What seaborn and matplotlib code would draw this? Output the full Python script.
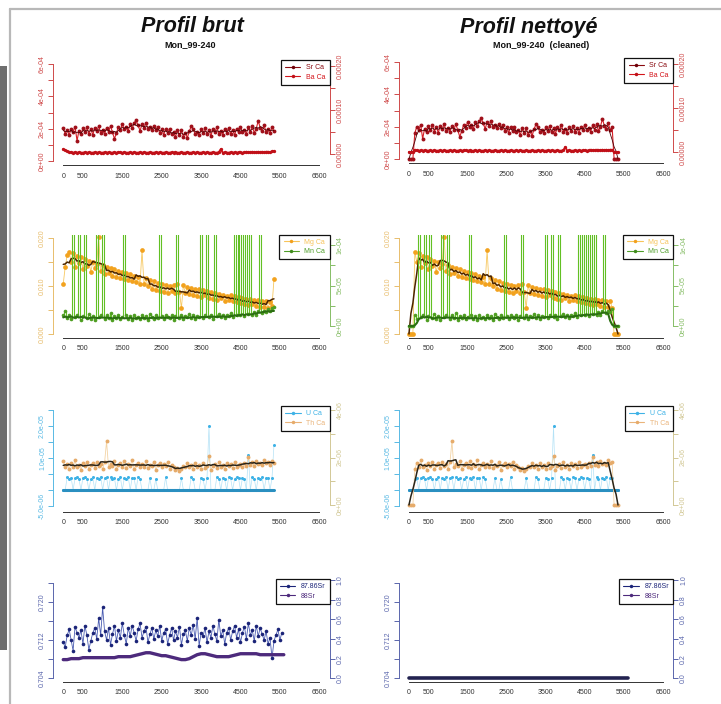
import numpy as np
import pandas as pd
import matplotlib
matplotlib.use("Agg")
import matplotlib.pyplot as plt
from matplotlib.lines import Line2D
from matplotlib.patches import Rectangle
import seaborn as sns

# ---------------------------------------------------------------- data
# distance along the transect (one sample every 50 units)
dist = np.arange(0, 5400, 50)
dist_sr = np.arange(0, 5600, 50)
dist_88 = np.arange(0, 5700, 100)

sr_ca = np.array([
    207, 167, 193, 160, 200, 180, 213, 125, 188, 165, 203, 177,
    210, 170, 196, 163, 203, 183, 216, 176, 191, 168, 206, 180,
    217, 177, 138, 172, 212, 192, 228, 195, 210, 188, 228, 202,
    234, 252, 220, 187, 227, 207, 238, 198, 213, 190, 218, 192,
    212, 172, 195, 162, 198, 172, 200, 164, 177, 150, 190, 162,
    190, 150, 176, 143, 183, 215, 196, 166, 181, 158, 196, 172,
    204, 164, 190, 157, 197, 177, 210, 170, 185, 162, 200, 174,
    207, 167, 193, 160, 200, 180, 213, 178, 193, 170, 208, 182,
    214, 174, 200, 248, 207, 187, 220, 180, 195, 172, 210, 184,
]) * 1e-6

ba_ca = np.array([
    11, 8, 6, 5, 4, 3, 4, 3, 4, 3, 3, 4,
    3, 4, 3, 3, 4, 3, 4, 3, 3, 4, 3, 4,
    3, 3, 4, 3, 4, 4, 3, 4, 3, 3, 4, 3,
    4, 3, 3, 4, 3, 4, 3, 3, 4, 3, 3, 4,
    3, 4, 3, 3, 4, 3, 3, 4, 3, 4, 3, 3,
    4, 3, 3, 4, 3, 3, 4, 3, 4, 3, 3, 4,
    3, 4, 3, 3, 4, 3, 3, 4, 11, 3, 4, 3,
    3, 4, 3, 4, 3, 4, 4, 3, 4, 5, 4, 4,
    5, 4, 4, 5, 4, 5, 4, 5, 5, 4, 6, 7,
]) * 1e-6

mg_ca = np.array([
    105, 140, 165, 172, 150, 170, 140, 163, 148, 160, 136, 157,
    142, 152, 130, 150, 138, 147, 203, 131, 145, 125, 140, 128,
    138, 122, 135, 120, 132, 118, 130, 115, 128, 112, 125, 110,
    122, 108, 120, 105, 175, 104, 116, 100, 112, 95, 110, 92,
    106, 90, 104, 88, 102, 86, 100, 90, 103, 85, 104, 88,
    54, 102, 86, 98, 84, 96, 82, 95, 80, 93, 78, 92,
    82, 90, 76, 88, 74, 86, 72, 84, 75, 82, 70, 80,
    72, 82, 68, 80, 66, 77, 64, 76, 62, 74, 60, 73,
    62, 72, 58, 71, 57, 70, 56, 68, 55, 67, 58, 114,
]) * 1e-4

mn_ca = np.array([
    14, 18, 10, 13, 9, 400, 11, 14, 400, 8, 12, 400,
    10, 15, 9, 12, 7, 400, 11, 14, 400, 9, 13, 10,
    16, 8, 12, 10, 14, 9, 11, 400, 13, 9, 12, 8,
    14, 10, 11, 9, 13, 10, 12, 8, 15, 11, 9, 13,
    10, 400, 12, 9, 14, 11, 10, 13, 7, 12, 400, 10,
    14, 9, 12, 11, 15, 10, 13, 9, 12, 11, 400, 10,
    13, 400, 11, 14, 9, 400, 12, 15, 11, 13, 10, 14,
    12, 16, 11, 400, 13, 400, 14, 400, 12, 400, 15, 400,
    13, 17, 14, 18, 400, 16, 19, 17, 21, 18, 22, 24,
]) * 1e-6

u_ca = np.array([
    0, 0, 40, 34, 39, 0, 37, 42, 33, 0, 38, 41,
    35, 0, 33, 40, 0, 39, 34, 42, 0, 36, 40, 0,
    41, 35, 37, 0, 33, 40, 0, 37, 34, 41, 0, 39,
    36, 0, 42, 33, 0, 0, 0, 0, 37, 0, 0, 34,
    0, 0, 0, 0, 40, 0, 0, 0, 0, 0, 0, 0,
    37, 0, 0, 0, 0, 41, 34, 0, 0, 0, 39, 35,
    0, 36, 200, 0, 0, 0, 41, 35, 0, 39, 33, 0,
    40, 36, 0, 34, 41, 37, 0, 38, 33, 0, 110, 0,
    41, 35, 0, 39, 34, 40, 0, 36, 38, 0, 37, 140,
]) * 1e-7

th_ca = np.array([
    185, 160, 172, 150, 178, 162, 188, 158, 170, 148, 175, 165,
    182, 152, 168, 176, 155, 183, 163, 171, 150, 180, 268, 158,
    174, 164, 187, 153, 169, 177, 160, 184, 156, 172, 165, 190,
    151, 168, 178, 159, 173, 162, 185, 154, 170, 166, 181, 149,
    167, 176, 158, 172, 163, 183, 152, 169, 160, 148, 155, 142,
    150, 165, 158, 175, 162, 170, 153, 178, 161, 168, 150, 176,
    156, 163, 206, 148, 166, 172, 157, 180, 162, 169, 151, 177,
    164, 171, 155, 182, 160, 168, 174, 158, 178, 165, 201, 170,
    180, 164, 185, 172, 178, 168, 188, 175, 182, 170, 186, 176,
]) * 1e-8

sr8786 = 0.7 + np.array([
    115, 105, 130, 142, 120, 98, 148, 135, 125, 140, 112, 150,
    130, 100, 118, 135, 145, 122, 165, 130, 188, 138, 120, 145,
    110, 132, 150, 118, 140, 125, 155, 130, 112, 145, 128, 150,
    135, 118, 142, 155, 125, 138, 148, 115, 132, 145, 122, 140,
    128, 150, 118, 135, 142, 112, 130, 145, 120, 138, 125, 148,
    110, 132, 140, 118, 145, 130, 152, 122, 166, 108, 135, 128,
    145, 115, 138, 125, 150, 132, 118, 162, 128, 140, 112, 135,
    145, 120, 138, 150, 125, 142, 115, 135, 148, 122, 155, 130,
    140, 118, 150, 128, 145, 132, 120, 138, 112, 125, 82, 118,
    130, 142, 120, 135,
]) * 1e-4

sr88 = np.array([
    0.19, 0.19, 0.20, 0.20, 0.20, 0.21, 0.21, 0.21, 0.21, 0.21,
    0.21, 0.21, 0.21, 0.21, 0.22, 0.22, 0.22, 0.22, 0.23, 0.24,
    0.25, 0.26, 0.26, 0.25, 0.24, 0.23, 0.23, 0.22, 0.21, 0.20,
    0.19, 0.19, 0.20, 0.22, 0.24, 0.25, 0.25, 0.24, 0.23, 0.22,
    0.22, 0.22, 0.22, 0.23, 0.24, 0.25, 0.25, 0.25, 0.25, 0.25,
    0.24, 0.24, 0.24, 0.24, 0.24, 0.24, 0.24,
])

# the cleaned profile keeps only the samples inside this window
clean_from, clean_to = 150, 5200

x_ticks = list(range(0, 7000, 500))
x_tick_labels = ["0", "500", "", "1500", "", "2500", "", "3500", "", "4500", "", "5500", "", "6500"]

r1_left_ticks = [0, 1e-4, 2e-4, 3e-4, 4e-4, 5e-4, 6e-4]
r1_left_labels = ["0e+00", "", "2e-04", "", "4e-04", "", "6e-04"]
r1_right_ticks = [0, 5e-5, 1e-4, 1.5e-4, 2e-4]
r1_right_labels = ["0.00000", "", "0.00010", "", "0.00020"]
r2_left_ticks = [0, 0.005, 0.010, 0.015, 0.020]
r2_left_labels = ["0.000", "", "0.010", "", "0.020"]
r2_right_ticks = [0, 2.5e-5, 5e-5, 7.5e-5, 1e-4]
r2_right_labels = ["0e+00", "", "5e-05", "", "1e-04"]
r3_left_ticks = [-5e-6, 0, 5e-6, 1e-5, 1.5e-5, 2e-5, 2.5e-5]
r3_left_labels = ["-5.0e-06", "", "", "1.0e-05", "", "2.0e-05", ""]
r3_right_ticks = [0, 1e-6, 2e-6, 3e-6, 4e-6]
r3_right_labels = ["0e+00", "", "2e-06", "", "4e-06"]
r4_left_ticks = [0.704, 0.708, 0.712, 0.716, 0.720, 0.724]
r4_left_labels = ["0.704", "", "0.712", "", "0.720", ""]
r4_right_ticks = [0, 0.2, 0.4, 0.6, 0.8, 1.0]
r4_right_labels = ["0.0", "0.2", "0.4", "0.6", "0.8", "1.0"]

legend_labels = [["Sr Ca", "Ba Ca"], ["Mg Ca", "Mn Ca"], ["U Ca", "Th Ca"], ["87.86Sr", "88Sr"]]

# ---------------------------------------------------------------- layout
W, H = 721, 704
sns.set_theme(style="white")
plt.rcParams["font.family"] = ["Liberation Sans", "DejaVu Sans"]
fig = plt.figure(figsize=(W / 100, H / 100), dpi=100)
fig.patch.set_facecolor("white")

col_x = [(53, 329.5, -1), (398.8, 673.1, -3)]
row_y = [(61, 166), (234.5, 337.8), (406, 511.7), (579, 681.7)]
left_ref = [((162, 0), (65, 6e-4)), ((334, 0), (238.3, 0.02)),
            ((490, 0), (426, 2e-5)), ((678.3, 0.704), (601.7, 0.720))]
right_ref = [((155, 0), (67, 2e-4)), ((326, 0), (245, 1e-4)),
             ((505, 0), (410, 4e-6)), ((678.3, 0), (580, 1.0))]
left_ticks = [r1_left_ticks, r2_left_ticks, r3_left_ticks, r4_left_ticks]
left_labels = [r1_left_labels, r2_left_labels, r3_left_labels, r4_left_labels]
right_ticks = [r1_right_ticks, r2_right_ticks, r3_right_ticks, r4_right_ticks]
right_labels = [r1_right_labels, r2_right_labels, r3_right_labels, r4_right_labels]
axis_colors = [("#cf4a4a", "#cf4a4a"), ("#e8bd6c", "#86bd66"),
               ("#58b9e4", "#d2c896"), ("#5a66ac", "#5a66ac")]
legend_colors = [[("#8a0a10", "#6e0008"), ("#d4141a", "#c01018")],
                 [("#f7c45a", "#f2a01c"), ("#4e9e28", "#3f8a1a")],
                 [("#3eb2e6", "#3eb2e6"), ("#eab47a", "#e6ab6a")],
                 [("#1b2478", "#1b2478"), ("#4d2a7c", "#4d2a7c")]]


def lim(p0, v0, p1, v1, top, bottom):
    k = (v1 - v0) / (p0 - p1)
    return v0 - (bottom - p0) * k, v0 + (p0 - top) * k


def series(ax, x, y, line_c, mark_c, ms=2.5, lw=0.6, **kw):
    sns.lineplot(x=x, y=y, ax=ax, color=line_c, lw=lw, marker="o", markersize=ms,
                 markerfacecolor=mark_c, markeredgewidth=0, estimator=None,
                 sort=False, legend=False, **kw)


def smooth(ax, x, y, color, lw, win=7, q=None):
    roll = pd.Series(y).rolling(win, center=True, min_periods=1)
    ys = (roll.mean() if q is None else roll.quantile(q)).to_numpy()
    sns.lineplot(x=x, y=ys, ax=ax, color=color, lw=lw, estimator=None, sort=False, legend=False)


def cleaned(y, x):
    return np.where((x >= clean_from) & (x <= clean_to), y, 0.0)


def style_y(ax, side, ticks, labels, color, ylim):
    ax.set_ylim(*ylim)
    ax.set_yticks(ticks)
    ax.set_yticklabels(labels)
    ax.set_ylabel("")
    sp = ax.spines[side]
    sp.set_visible(True)
    sp.set_bounds(ticks[0], ticks[-1])
    sp.set_color(color)
    sp.set_linewidth(0.7)
    ax.tick_params(axis="y", which="both", left=side == "left", right=side == "right",
                   labelleft=side == "left", labelright=side == "right",
                   direction="out", length=3.5, width=0.7, colors=color,
                   labelsize=5, pad=1.5, labelrotation=90)
    for t in ax.get_yticklabels():
        t.set_verticalalignment("center")


def draw_row(row, ax, ax2, clean):
    if row == 0:
        sr = cleaned(sr_ca, dist) if clean else sr_ca
        ba = cleaned(ba_ca, dist) if clean else ba_ca
        series(ax, dist, sr, "#d82028", "#a0101a", ms=2.8, lw=0.8)
        smooth(ax, dist, sr, "#4a0004", 0.6, win=5)
        series(ax2, dist, ba, "#d4141a", "#c01018", ms=2.4, lw=1.4)
    elif row == 1:
        mg = cleaned(mg_ca, dist) if clean else mg_ca
        mn = cleaned(mn_ca, dist) if clean else mn_ca
        series(ax, dist, mg, "#f7c860", "#f2a21e", ms=3.4)
        smooth(ax, dist, mg, "#4a2400", 1.1, win=5 if clean else 7)
        series(ax2, dist, mn, "#62c024", "#4f9e22", ms=2.6, lw=0.8, drawstyle="steps-mid")
        smooth(ax2, dist, mn, "#2b6e12", 1.5, win=9, q=0.3)
    elif row == 2:
        th = cleaned(th_ca, dist) if clean else th_ca
        u = cleaned(u_ca, dist) if clean else u_ca
        series(ax, dist, u, "#b4e2f6", "#3eb2e6", ms=2.2, lw=0.5)
        smooth(ax, dist, u, "#2a8fc0", 2.2, win=5, q=0.0)
        series(ax2, dist, th, "#f3d3a4", "#e6ab6a", ms=2.8)
        smooth(ax2, dist, th, "#2a2418", 1.1, win=5 if clean else 7)
    else:
        if clean:
            s87 = np.zeros_like(sr8786)
            s88 = np.zeros_like(sr88)
            series(ax, dist_sr, s87, "#4a5cb2", "#1b2478", ms=2.6)
            sns.lineplot(x=dist_88, y=s88, ax=ax2, color="#222250", lw=2.6,
                         estimator=None, sort=False, legend=False)
        else:
            series(ax, dist_sr, sr8786, "#4a5cb2", "#1b2478", ms=2.6)
            sns.lineplot(x=dist_88, y=sr88, ax=ax2, color="#4d2a7c", lw=2.4,
                         estimator=None, sort=False, legend=False)


for col, (left, right, dy1) in enumerate(col_x):
    for row, (top, bottom) in enumerate(row_y):
        if row == 0:
            top, bottom = top + dy1, bottom + dy1
        ax = fig.add_axes([left / W, 1 - bottom / H, (right - left) / W, (bottom - top) / H])
        ax.patch.set_visible(False)
        ax2 = ax.twinx()
        draw_row(row, ax, ax2, clean=col == 1)

        for a in (ax, ax2):
            for sp in a.spines.values():
                sp.set_visible(False)
        ax.set_xlim(-260, 6760)
        ax.set_xticks(x_ticks)
        ax.set_xticklabels(x_tick_labels)
        ax.set_xlabel("")
        ax.spines["bottom"].set_visible(True)
        ax.spines["bottom"].set_bounds(0, 6500)
        ax.spines["bottom"].set_color("#333333")
        ax.spines["bottom"].set_linewidth(0.7)
        ax.tick_params(axis="x", direction="out", length=3.5, width=0.7, colors="#333333",
                       labelsize=5, pad=2)

        (p0, v0), (p1, v1) = left_ref[row]
        style_y(ax, "left", left_ticks[row], left_labels[row], axis_colors[row][0],
                lim(p0, v0, p1, v1, row_y[row][0], row_y[row][1]))
        (p0, v0), (p1, v1) = right_ref[row]
        style_y(ax2, "right", right_ticks[row], right_labels[row], axis_colors[row][1],
                lim(p0, v0, p1, v1, row_y[row][0], row_y[row][1]))

        handles = [Line2D([], [], color=lc, lw=0.8, marker="o", markersize=2.5,
                          markerfacecolor=mc, markeredgewidth=0)
                   for lc, mc in legend_colors[row]]
        leg = ax2.legend(handles, legend_labels[row], loc="upper right",
                         bbox_to_anchor=(1.0, 1.0), borderaxespad=0, fontsize=5,
                         frameon=True, fancybox=False, framealpha=1,
                         edgecolor="#111111", handlelength=2.2, handletextpad=0.8,
                         borderpad=0.6, labelspacing=0.35,
                         labelcolor=[c for c, _ in legend_colors[row]])
        leg.get_frame().set_linewidth(0.9)

# titles
fig.text(192 / W, 1 - 27 / H, "Profil brut", ha="center", va="center",
         fontsize=15.5, fontweight="bold", fontstyle="italic", color="#111111")
fig.text(190 / W, 1 - 45 / H, "Mon_99-240", ha="center", va="center",
         fontsize=6.5, fontweight="bold", color="#111111")
fig.text(529 / W, 1 - 27 / H, "Profil nettoyé", ha="center", va="center",
         fontsize=15.5, fontweight="bold", fontstyle="italic", color="#111111")
fig.text(541 / W, 1 - 45 / H, "Mon_99-240  (cleaned)", ha="center", va="center",
         fontsize=6.5, fontweight="bold", color="#111111")

# scan frame
fig.add_artist(Line2D([10 / W, 1], [1 - 9 / H, 1 - 9 / H], transform=fig.transFigure,
                      color="#b8b8b8", lw=1.6))
fig.add_artist(Line2D([10 / W, 10 / W], [1 - 9 / H, 0], transform=fig.transFigure,
                      color="#b8b8b8", lw=1.6))
fig.add_artist(Rectangle((0, 1 - 650 / H), 7 / W, (650 - 66) / H, transform=fig.transFigure,
                         color="#6e6e6e", lw=0))

fig.savefig("out.png", dpi=100)
